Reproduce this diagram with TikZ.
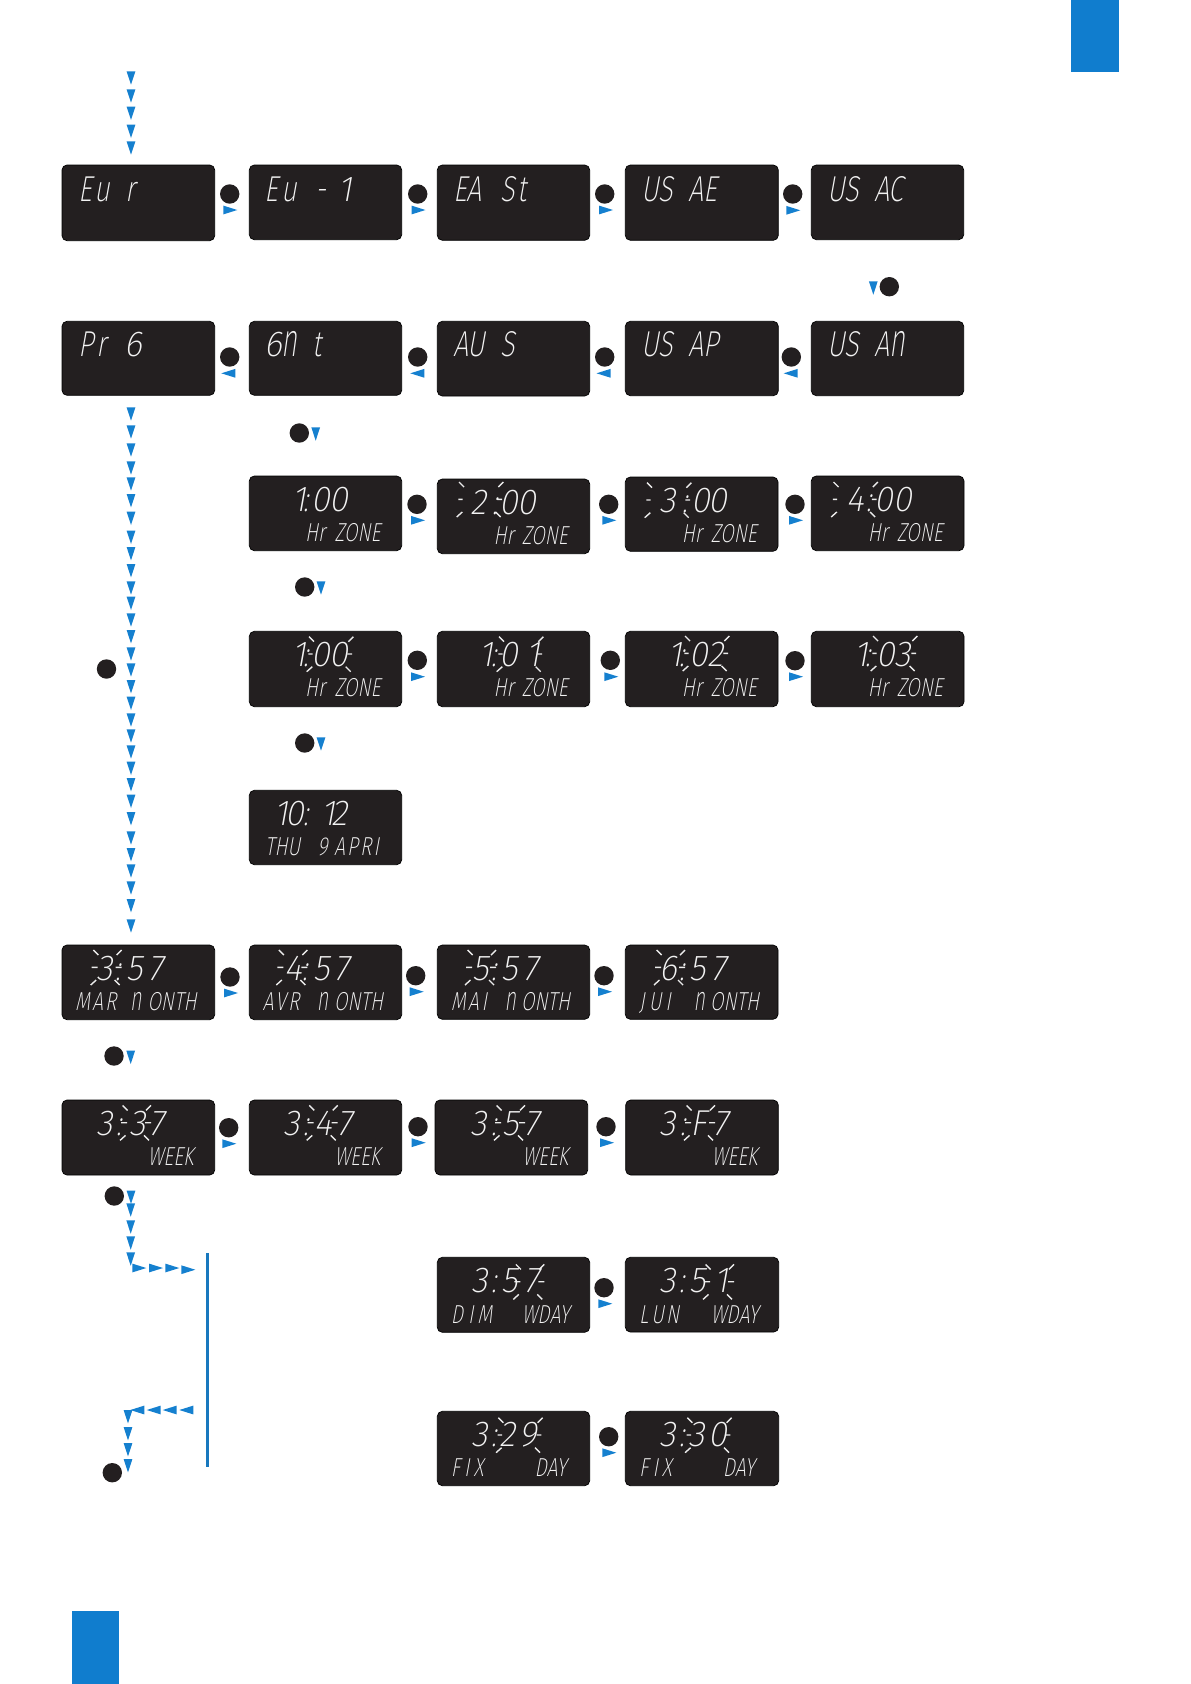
\documentclass[tikz,border=0pt]{standalone}
\usepackage{fontspec}
\newfontfamily\lcdfont[FakeSlant=0.18,FakeStretch=0.75]{Fira Sans ExtraLight}
\newfontfamily\lcddigit[FakeSlant=0.18,FakeStretch=0.95]{Fira Sans ExtraLight}
\definecolor{tabblue}{HTML}{107DCE}
\definecolor{triblue}{HTML}{1580CF}
\definecolor{lineblue}{HTML}{1878BE}
\definecolor{panel}{HTML}{231F20}
\newcounter{lcdn}
\newcommand\lcdm{\scalebox{1}[1.31]{n}}
\newcommand\kk[1]{\kern#1pt\relax}
\tikzset{
  lcdbig/.style={anchor=base west,inner sep=0,outer sep=0,text=white!95!black,font=\fontsize{36}{36}\lcdfont},
  lcddig/.style={anchor=base west,inner sep=0,outer sep=0,text=white!95!black,font=\fontsize{36}{36}\lcddigit},
  lcdsub/.style={anchor=base west,inner sep=0,outer sep=0,text=white!95!black,font=\fontsize{26}{26}\lcdfont},
  lcdbox/.style={draw=black,line width=0.7pt,fill=panel,rounded corners=5pt,inner sep=0,outer sep=0},
  flash/.style={draw=white!92!black,line width=1.4pt},
  tri/.style={fill=triblue},
  btn/.style={fill=panel}
}
\newcommand\disp[5]{\node[lcdbox,minimum width={(#4-#2)*1pt},minimum height={(#5-#3)*1pt}] (#1) at ({(#2+#4)/2},{(#3+#5)/2}) {};}
\newcommand\bigt[3]{\stepcounter{lcdn}\node[lcdbig] (b\arabic{lcdn}) at (#1-2,#2) {#3};}
\newcommand\dgt[3]{\stepcounter{lcdn}\node[lcddig] (d\arabic{lcdn}) at (#1-2,#2) {#3};}
\newcommand\subt[3]{\stepcounter{lcdn}\node[lcdsub] (s\arabic{lcdn}) at (#1-1.5,#2) {#3};}
\newcommand\rays[2]{\draw[flash] (#1-21,#2-17.3) -- (#1-16,#2-12.3) (#1+23.3,#2-17.3) -- (#1+18.3,#2-12.3) (#1-21.7,#2) -- (#1-17.3,#2) (#1+17.3,#2) -- (#1+22,#2) (#1-23.3,#2+17.7) -- (#1-17.7,#2+12.7) (#1+20.7,#2+17.7) -- (#1+15.7,#2+12.7);}
\newcommand\raysn[2]{\draw[flash] (#1-13.4,#2-17.3) -- (#1-8.4,#2-12.3) (#1+15,#2-17.3) -- (#1+10,#2-12.3) (#1-15,#2) -- (#1-9,#2) (#1+9,#2) -- (#1+15,#2) (#1-16,#2+17.7) -- (#1-10.5,#2+12.7) (#1+13,#2+17.7) -- (#1+8,#2+12.7);}
\newcommand\tdown[2]{\fill[tri] (#1-4.4,#2-6.7) -- (#1+4.4,#2-6.7) -- (#1,#2+6.7) -- cycle;}
\newcommand\tright[2]{\fill[tri] (#1-7,#2-4.4) -- (#1-7,#2+4.4) -- (#1+7,#2) -- cycle;}
\newcommand\tleft[2]{\fill[tri] (#1+7,#2-4.4) -- (#1+7,#2+4.4) -- (#1-7,#2) -- cycle;}
\newcommand\btn[2]{\fill[btn] (#1,#2) circle (9.7pt);}
\begin{document}
\begin{tikzpicture}[x=1pt,y=-1pt]
\useasboundingbox (0,0) rectangle (1191,1684);
\fill[tabblue] (1071,0) rectangle (1119,72);
\fill[tabblue] (72,1611) rectangle (119,1684);
% top arrows
\tdown{131}{78}\tdown{131}{96}\tdown{131}{113.3}\tdown{131}{131.3}\tdown{131}{148}
% row 1
\disp{r1a}{62}{165}{214.7}{240.7}
\disp{r1b}{249.3}{165}{401.7}{239.7}
\disp{r1c}{437.3}{165}{589.7}{240.3}
\disp{r1d}{625.3}{165}{778.3}{240.3}
\disp{r1e}{811.3}{165}{963.7}{239.7}
\bigt{80}{201}{E\kk3u}\bigt{127.3}{201}{r}
\bigt{266.7}{201}{E\kk3u}\bigt{317}{201}{-}\dgt{340}{201}{1}
\bigt{455}{201}{EA}\bigt{502.7}{201}{S\kk2t}
\bigt{643.3}{201}{US}\bigt{690}{201}{AE}
\bigt{829.3}{201}{US}\bigt{876}{201}{AC}
\btn{229.7}{194}\tright{230.3}{210}
\btn{417.7}{194}\tright{418.5}{210}
\btn{604.7}{194}\tright{606}{210}
\btn{792.7}{194}\tright{793.3}{210.3}
\tdown{873.3}{288}\btn{889.3}{286.7}
% row 2
\disp{r2a}{62}{321.3}{214.7}{395.3}
\disp{r2b}{249.3}{321.3}{401.7}{395.3}
\disp{r2c}{437.3}{321.3}{589.7}{396}
\disp{r2d}{625.3}{321.3}{778.3}{395.7}
\disp{r2e}{811.3}{321.3}{963.7}{395.7}
\bigt{80}{356}{P\kk3r}\dgt{126.7}{356}{6}
\dgt{266.7}{356}{6}\bigt{283.3}{356}{\lcdm}\bigt{314}{356}{t}
\bigt{455}{356}{AU}\bigt{502.7}{356}{S}
\bigt{643.3}{356}{US}\bigt{690}{356}{AP}
\bigt{829.3}{356}{US}\bigt{876}{356}{A\lcdm}
\btn{229.7}{357}\tleft{228.3}{373.3}
\btn{417.7}{357}\tleft{417.3}{373.3}
\btn{604.7}{357}\tleft{603.5}{373.3}
\btn{791.3}{357}\tleft{790.7}{373.3}
% long column
\foreach \yy in {414,432,450,468,484,500.7,518.3,537.3,553.7,570.7,588,603.3,620,636.7,654,670,686.7,703.3,720,736,752,768.3,784.7,801.3,818.7,838,854.7,871,888,905.7,926}{\tdown{131}{\yy}}
\btn{106.5}{669}
\btn{299.3}{433}\tdown{315.7}{434}
% row 3
\disp{r3a}{249.3}{476}{401.7}{550.7}
\disp{r3b}{437.3}{479}{589.7}{553.7}
\disp{r3c}{625.3}{477}{778}{551.3}
\disp{r3d}{811.3}{476}{964}{550.7}
\dgt{294}{511.7}{1}\bigt{305}{511.7}{:}\dgt{313.3}{511.7}{0}\dgt{331.3}{511.7}{0}
\subt{306.7}{541.7}{Hr}\subt{336}{541.7}{ZONE}
\rays{480}{499.3}
\dgt{472.3}{514.3}{2}\bigt{494}{514.3}{:}\dgt{501.7}{514.3}{0}\dgt{519.7}{514.3}{0}
\subt{495}{544.3}{Hr}\subt{523.3}{544.3}{ZONE}
\rays{668}{500}
\dgt{661.7}{512.3}{3}\bigt{684}{512.3}{:}\dgt{693.3}{512.3}{0}\dgt{710.7}{512.3}{0}
\subt{683.3}{542.3}{Hr}\subt{712.3}{542.3}{ZONE}
\rays{854.5}{499.3}
\dgt{848.3}{511.7}{4}\bigt{868.3}{511.7}{:}\dgt{876.7}{511.7}{0}\dgt{895}{511.7}{0}
\subt{869.3}{541.7}{Hr}\subt{898.3}{541.7}{ZONE}
\btn{417}{504.3}\tright{418}{520.3}
\btn{608.7}{504.3}\tright{609.3}{520.3}
\btn{795}{504.3}\tright{796}{520.3}
\btn{304.7}{587}\tdown{321}{588}
% row 4
\disp{r4a}{249.3}{631.3}{401.7}{706.7}
\disp{r4b}{437.3}{631.3}{589.7}{706.7}
\disp{r4c}{625.3}{631.3}{778}{706.7}
\disp{r4d}{811.3}{631.3}{964}{706.7}
\rays{330}{654}
\dgt{294}{666.7}{1}\bigt{305}{666.7}{:}\dgt{313.3}{666.7}{0}\dgt{331.3}{666.7}{0}
\subt{306.7}{696.7}{Hr}\subt{336}{696.7}{ZONE}
\rays{520}{654}
\dgt{481.7}{666.7}{1}\bigt{493.3}{666.7}{:}\dgt{501.7}{666.7}{0}\dgt{528.3}{666.7}{1}
\subt{495}{696.7}{Hr}\subt{523.3}{696.7}{ZONE}
\rays{706}{653.3}
\dgt{670.7}{666.7}{1}\bigt{681}{666.7}{:}\dgt{691.7}{666.7}{0}\dgt{709.3}{666.7}{2}
\subt{683.3}{696.7}{Hr}\subt{712.3}{696.7}{ZONE}
\rays{894}{653.3}
\dgt{856.7}{666.7}{1}\bigt{867.3}{666.7}{:}\dgt{878.3}{666.7}{0}\dgt{896}{666.7}{3}
\subt{869.3}{696.7}{Hr}\subt{898.3}{696.7}{ZONE}
\btn{417.3}{660.3}\tright{418}{676.7}
\btn{610.3}{660.3}\tright{611.3}{676.7}
\btn{795}{660.7}\tright{796}{676.7}
\btn{304.7}{743}\tdown{321}{744}
% row 5
\disp{r5a}{249.3}{790.3}{401.7}{864.7}
\dgt{276.7}{825.7}{1}\dgt{287}{825.7}{0}\bigt{305}{825.7}{:}\dgt{323.3}{825.7}{1}\dgt{333}{825.7}{2}
\subt{266.7}{855.7}{THU}\subt{319}{855.7}{9}\subt{335.7}{855.7}{A\kk2P\kk2R\kk2I}
% row 6
\disp{r6a}{62}{945}{214.7}{1019.7}
\disp{r6b}{249.3}{945}{401.7}{1019.7}
\disp{r6c}{437.3}{945}{589.7}{1019.3}
\disp{r6d}{625.3}{945}{778}{1019.3}
\raysn{106.7}{967.3}
\dgt{98.3}{980.7}{3}\bigt{117.3}{980.7}{:}\dgt{128.3}{980.7}{5}\dgt{150}{980.7}{7}
\subt{76.7}{1010.7}{M\kk2A\kk2R}\subt{131.7}{1010.7}{\lcdm}\subt{149}{1010.7}{ONTH}
\raysn{292.3}{967.3}
\dgt{286.7}{980.7}{4}\bigt{304}{980.7}{:}\dgt{315}{980.7}{5}\dgt{336.7}{980.7}{7}
\subt{264}{1010.7}{A\kk2V\kk2R}\subt{318.3}{1010.7}{\lcdm}\subt{335.7}{1010.7}{ONTH}
\raysn{481}{967.3}
\dgt{474}{980.7}{5}\bigt{493.3}{980.7}{:}\dgt{503.3}{980.7}{5}\dgt{525}{980.7}{7}
\subt{452.3}{1010.7}{M\kk2A\kk3I}\subt{506}{1010.7}{\lcdm}\subt{522.7}{1010.7}{ONTH}
\raysn{670}{967.3}
\dgt{661.7}{980.7}{6}\bigt{681.7}{980.7}{:}\dgt{691.7}{980.7}{5}\dgt{713.3}{980.7}{7}
\subt{640.7}{1010.7}{J\kk4U\kk4I}\subt{695}{1010.7}{\lcdm}\subt{711.7}{1010.7}{ONTH}
\btn{230}{977}\tright{231}{993}
\btn{415.7}{975.7}\tright{416.7}{991.7}
\btn{604}{975.7}\tright{605}{991.7}
\btn{114}{1056}\tdown{130.7}{1057.3}
% row 7
\disp{r7a}{62}{1100}{214.7}{1175}
\disp{r7b}{249.3}{1100}{401.7}{1175}
\disp{r7c}{435}{1100}{587.7}{1175}
\disp{r7d}{625.7}{1100}{778.3}{1175}
\raysn{136}{1122.7}
\dgt{98.3}{1135.7}{3}\bigt{118.3}{1135.7}{:}\dgt{131.7}{1135.7}{3}\dgt{151.7}{1135.7}{7}
\subt{149.3}{1165.3}{WEEK}
\raysn{322.7}{1122.7}
\dgt{285}{1135.7}{3}\bigt{305}{1135.7}{:}\dgt{316.7}{1135.7}{4}\dgt{339}{1135.7}{7}
\subt{336}{1165.3}{WEEK}
\raysn{510}{1122.7}
\dgt{472.7}{1135.7}{3}\bigt{493.3}{1135.7}{:}\dgt{504}{1135.7}{5}\dgt{526.7}{1135.7}{7}
\subt{524}{1165.7}{WEEK}
\raysn{700}{1122.7}
\dgt{661.7}{1135.7}{3}\bigt{682.3}{1135.7}{:}\dgt{692.3}{1135.7}{F}\dgt{715}{1135.7}{7}
\subt{713.3}{1165.7}{WEEK}
\btn{228.7}{1127.7}\tright{229.3}{1143.7}
\btn{418}{1126.7}\tright{418.7}{1142.7}
\btn{606}{1126.7}\tright{607}{1142.7}
% lower arrows
\btn{114.3}{1196}
\tdown{131}{1197.3}\tdown{130.7}{1210}\tdown{130.7}{1227}\tdown{130.7}{1243}\tdown{130.7}{1259}
\tright{139.3}{1268}\tright{156}{1268}\tright{172.3}{1268}\tright{188.3}{1269.7}
\draw[lineblue,line width=2.7pt] (207.7,1253) -- (207.7,1466.7);
\tleft{137.3}{1410}\tleft{153.7}{1410}\tleft{169.7}{1410}\tleft{186.3}{1410}
\tdown{128}{1416.7}\tdown{128}{1433.7}\tdown{128}{1449.7}\tdown{128}{1465.7}
\btn{112.3}{1472.7}
% row 8
\disp{r8a}{437.3}{1257.3}{589.7}{1332.3}
\disp{r8b}{625.3}{1257.3}{778.7}{1332}
\raysn{529.3}{1281.7}
\dgt{473.3}{1292.7}{3}\bigt{493.3}{1292.7}{:}\dgt{503.3}{1292.7}{5}\dgt{526.7}{1292.7}{7}
\subt{452.3}{1323.3}{D\kk5I\kk4M}\subt{523.3}{1323.3}{WDAY}
\raysn{719}{1281.7}
\dgt{661.7}{1292.7}{3}\bigt{681.7}{1292.7}{:}\dgt{691.7}{1292.7}{5}\dgt{716.7}{1292.7}{1}
\subt{640.7}{1323.3}{L\kk3U\kk2N}\subt{712.3}{1323.3}{WDAY}
\btn{604}{1287.7}\tright{605.3}{1303.7}
% row 9
\disp{r9a}{437.3}{1411.3}{589.7}{1485.7}
\disp{r9b}{625.3}{1411.3}{778.7}{1485.7}
\rays{519.3}{1435}
\dgt{473.3}{1446.7}{3}\bigt{493.3}{1446.7}{:}\dgt{501.7}{1446.7}{2}\dgt{521.7}{1446.7}{9}
\subt{452.3}{1476.7}{F\kk4I\kk4X}\subt{536}{1476.7}{DAY}
\rays{708.3}{1435}
\dgt{661.7}{1446.7}{3}\bigt{681.7}{1446.7}{:}\dgt{690}{1446.7}{3}\dgt{710}{1446.7}{0}
\subt{640.7}{1476.7}{F\kk4I\kk4X}\subt{724.3}{1476.7}{DAY}
\btn{608.7}{1436.7}\tright{609.3}{1452.7}
\end{tikzpicture}
\end{document}
